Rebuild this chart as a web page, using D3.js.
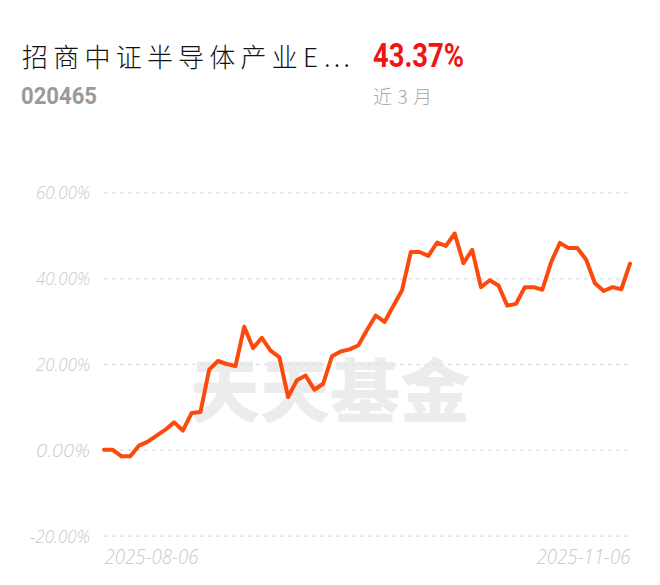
<!DOCTYPE html>
<html><head><meta charset="utf-8">
<script src="https://cdn.jsdelivr.net/npm/d3@7/dist/d3.min.js"></script>
<style>
html,body{margin:0;padding:0;background:#fff;}
svg{display:block;}
</style></head>
<body>
<svg id="chart" width="660" height="585"></svg>
<script>
const fundName = "招商中证半导体产业E…";
const fundCode = "020465";
const returnText = "43.37%";
const periodLabel = "近3月";
const watermark = "天天基金";

const dates = [
"2025-08-06","2025-08-07","2025-08-08","2025-08-11","2025-08-12","2025-08-13","2025-08-14","2025-08-15",
"2025-08-18","2025-08-19","2025-08-20","2025-08-21","2025-08-22","2025-08-25","2025-08-26","2025-08-27",
"2025-08-28","2025-08-29","2025-09-01","2025-09-02","2025-09-03","2025-09-04","2025-09-05","2025-09-08",
"2025-09-09","2025-09-10","2025-09-11","2025-09-12","2025-09-15","2025-09-16","2025-09-17","2025-09-18",
"2025-09-19","2025-09-22","2025-09-23","2025-09-24","2025-09-25","2025-09-26","2025-09-29","2025-09-30",
"2025-10-09","2025-10-10","2025-10-13","2025-10-14","2025-10-15","2025-10-16","2025-10-17","2025-10-20",
"2025-10-21","2025-10-22","2025-10-23","2025-10-24","2025-10-27","2025-10-28","2025-10-29","2025-10-30",
"2025-10-31","2025-11-03","2025-11-04","2025-11-05","2025-11-06"];

const returns = [
0, 0, -1.5, -1.5, 1.0, 1.9, 3.3, 4.7, 6.4, 4.5,
8.6, 8.8, 18.7, 20.7, 20.0, 19.5, 28.7, 23.7, 26.1, 23.1,
21.6, 12.3, 16.2, 17.3, 14.0, 15.4, 21.8, 22.9, 23.4, 24.3,
27.9, 31.3, 29.8, 33.5, 37.2, 46.1, 46.1, 45.2, 48.3, 47.5,
50.4, 43.5, 46.6, 37.9, 39.5, 38.3, 33.6, 34.0, 37.9, 37.9,
37.3, 43.7, 48.2, 47.0, 47.0, 44.3, 38.8, 37.0, 37.9, 37.4,
43.37];

const yTicks = [-20, 0, 20, 40, 60];
const xTickLabels = ["2025-08-06", "2025-11-06"];

const svg = d3.select("#chart");
const plotLeft = 104, plotRight = 630, plotTop = 192.3, plotBottom = 535.7;

const x = d3.scalePoint().domain(dates).range([plotLeft, plotRight]);
const y = d3.scaleLinear().domain([-20, 60]).range([plotBottom, plotTop]);

// Header
svg.append("text").attr("x", 22).attr("y", 67)
  .attr("font-family", "'Noto Sans CJK SC', sans-serif").attr("font-weight", 300)
  .attr("font-size", 26).attr("fill", "#111")
  .attr("textLength", 328).attr("lengthAdjust", "spacing")
  .text(fundName);
svg.append("text").attr("x", 373).attr("y", 67)
  .attr("font-family", "Roboto, sans-serif").attr("font-weight", 700)
  .attr("font-size", 33).attr("fill", "#f21414")
  .attr("textLength", 91).attr("lengthAdjust", "spacingAndGlyphs")
  .text(returnText);
svg.append("text").attr("x", 21).attr("y", 103.5)
  .attr("font-family", "Roboto, sans-serif").attr("font-weight", 700)
  .attr("font-size", 23).attr("fill", "#9a9a9a")
  .attr("textLength", 76).attr("lengthAdjust", "spacingAndGlyphs")
  .text(fundCode);
svg.append("text").attr("x", 373).attr("y", 104)
  .attr("font-family", "'Noto Sans CJK SC', sans-serif").attr("font-weight", 300)
  .attr("font-size", 19).attr("fill", "#aaa")
  .attr("textLength", 59).attr("lengthAdjust", "spacing")
  .text(periodLabel);

// Watermark
svg.append("text").attr("x", 190).attr("y", 417)
  .attr("font-family", "'Noto Sans CJK SC', sans-serif").attr("font-weight", 900)
  .attr("font-size", 69).attr("fill", "#ececec")
  .attr("textLength", 280).attr("lengthAdjust", "spacingAndGlyphs")
  .text(watermark);

// Grid
const yAxis = d3.axisLeft(y).tickValues(yTicks).tickSize(-(plotRight - plotLeft))
  .tickPadding(14).tickFormat(d => d.toFixed(2) + "%");
const gy = svg.append("g").attr("transform", `translate(${plotLeft},0)`).call(yAxis);
gy.select(".domain").remove();
gy.selectAll(".tick line").attr("stroke", "#e3e3e3").attr("stroke-width", 1.5)
  .attr("stroke-dasharray", "4,4");
gy.selectAll(".tick text").attr("fill", "#cacaca")
  .attr("font-family", "'Open Sans', sans-serif").attr("font-weight", 300)
  .attr("font-style", "italic").attr("font-size", 19).attr("x", -14).attr("dy", "0.35em")
  .attr("textLength", d => d < 0 ? 60 : 54).attr("lengthAdjust", "spacingAndGlyphs");

// X labels
const xAxis = d3.axisBottom(x).tickValues(xTickLabels).tickSize(0).tickPadding(13);
const gx = svg.append("g").attr("transform", `translate(0,${plotBottom})`).call(xAxis);
gx.select(".domain").remove();
gx.selectAll(".tick text").attr("fill", "#cacaca")
  .attr("font-family", "'Open Sans', sans-serif").attr("font-weight", 300)
  .attr("font-style", "italic").attr("font-size", 21)
  .attr("textLength", 94).attr("lengthAdjust", "spacingAndGlyphs")
  .attr("text-anchor", (d, i) => i === 0 ? "start" : "end");

// Line
const line = d3.line().x((d, i) => x(dates[i])).y(d => y(d));
svg.append("path").datum(returns).attr("d", line)
  .attr("fill", "none").attr("stroke", "#fb4a0b").attr("stroke-width", 4)
  .attr("stroke-linejoin", "round").attr("stroke-linecap", "round");
</script>
</body></html>
